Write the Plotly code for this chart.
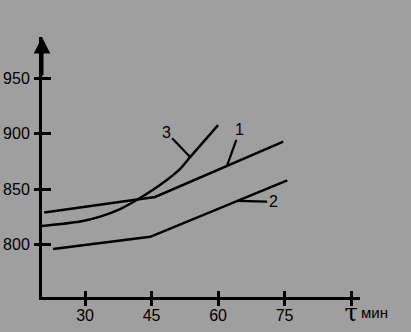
import plotly.graph_objects as go

# ---- data ----
curve1_x = [20.8, 45.8, 74.7]
curve1_y = [829, 843, 893]
curve2_x = [22.8, 44.7, 75.6]
curve2_y = [796, 807, 858]
curve3_x = [20.3, 28.9, 33.4, 37.9, 42.4, 46.9, 51.4, 53.7, 60.0]
curve3_y = [816.8, 820.8, 825.3, 832.1, 842.1, 853.8, 868.2, 879.0, 907.9]

curve_names = ["1", "2", "3"]
# point on each curve where the leader line of its number ends
label_anchor_x = [62.0, 64.3, 53.7]
label_anchor_y = [871, 839.5, 879]
label_offset = [(13, -36), (36, 1), (-24, -25)]

x_tick_vals = [30, 45, 60, 75, 90]
x_tick_labels = ["30", "45", "60", "75", "τ"]
y_tick_vals = [800, 850, 900, 950]
y_tick_labels = ["800", "850", "900", "950"]
x_unit = "мин"

x_range = [20.3, 92]
y_range = [752.7, 987.4]

BG = "#9f9f9f"
FONT = "Liberation Sans"

fig = go.Figure()
line_style = dict(color="black", width=2.5)
fig.add_trace(go.Scatter(x=curve1_x, y=curve1_y, mode="lines", line=line_style, name=curve_names[0]))
fig.add_trace(go.Scatter(x=curve2_x, y=curve2_y, mode="lines", line=line_style, name=curve_names[1]))
fig.add_trace(go.Scatter(x=curve3_x, y=curve3_y, mode="lines",
                         line=dict(color="black", width=2.5, shape="spline", smoothing=0.8),
                         name=curve_names[2]))
# invisible trace on the overlay axes (inside half of crossing ticks)
fig.add_trace(go.Scatter(x=[x_range[0]], y=[y_range[0]], mode="markers", marker=dict(opacity=0),
                         xaxis="x2", yaxis="y2", hoverinfo="skip"))

tick_text_x = x_tick_labels[:-1] + [
    "<span style='font-size:24px;font-family:DejaVu Serif'>" + x_tick_labels[-1] + "</span>"]

common_axis = dict(showgrid=False, zeroline=False, tickcolor="black", tickwidth=2.5, automargin=False)
fig.update_layout(
    width=411, height=332,
    margin=dict(l=42, r=51, t=37, b=35),
    paper_bgcolor=BG, plot_bgcolor=BG,
    showlegend=False,
    font=dict(family=FONT, size=16, color="black"),
    xaxis=dict(range=x_range, showline=True, linewidth=3, linecolor="black",
               ticks="outside", ticklen=6, tickvals=x_tick_vals, ticktext=tick_text_x,
               ticklabelstandoff=-4,
               tickfont=dict(size=16, family=FONT, color="black"), **common_axis),
    yaxis=dict(range=y_range, showline=True, linewidth=3, linecolor="black",
               ticks="outside", ticklen=5, tickvals=y_tick_vals, ticktext=y_tick_labels,
               ticklabelstandoff=1,
               tickfont=dict(size=16, family=FONT, color="black"), **common_axis),
    xaxis2=dict(range=x_range, overlaying="x", anchor="y2", side="bottom", ticks="inside",
                ticklen=6, tickvals=x_tick_vals, showticklabels=False, showline=False, **common_axis),
    yaxis2=dict(range=y_range, overlaying="y", anchor="x2", side="left", ticks="inside",
                ticklen=9, tickvals=y_tick_vals, showticklabels=False, showline=False, **common_axis),
)

annotations = []
# arrow head on the top of the vertical axis
annotations.append(dict(x=0, y=1, xref="paper", yref="paper", ax=0, ay=40, text="",
                        showarrow=True, arrowhead=2, arrowsize=1.1, arrowwidth=3, arrowcolor="black"))
# unit label after the τ tick
annotations.append(dict(x=x_tick_vals[-1], y=-0.06, xref="x", yref="paper", text=x_unit,
                        showarrow=False, xanchor="left", yanchor="middle", xshift=8,
                        font=dict(size=15, family=FONT, color="black")))
for name, ax_, ay_, (dx, dy) in zip(curve_names, label_anchor_x, label_anchor_y, label_offset):
    annotations.append(dict(x=ax_, y=ay_, xref="x", yref="y", text=name, ax=dx, ay=dy,
                            showarrow=True, arrowhead=0, arrowwidth=2.2, arrowcolor="black",
                            font=dict(size=16, family=FONT, color="black")))
fig.update_layout(annotations=annotations)

fig.write_html("out.html")
